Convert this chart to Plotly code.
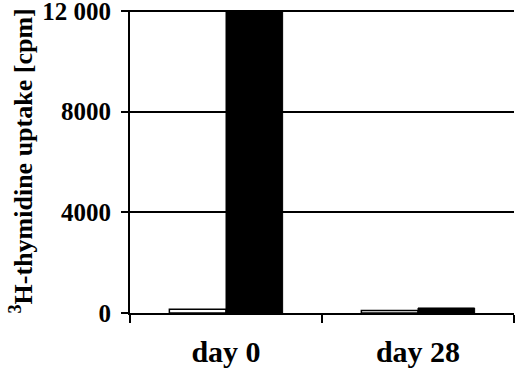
import plotly.graph_objects as go

categories = ["day 0", "day 28"]
white_values = [150, 100]
black_values = [12000, 200]
tick_vals = [0, 4000, 8000, 12000]
tick_text = ["0", "4000", "8000", "12 000"]
y_title = "<sup>3</sup>H-thymidine uptake [cpm]"

SERIF = "Liberation Serif"

fig = go.Figure()
fig.add_trace(go.Bar(x=categories, y=white_values, marker=dict(color="white", line=dict(color="black", width=1.5)), showlegend=False))
fig.add_trace(go.Bar(x=categories, y=black_values, marker=dict(color="black", line=dict(color="black", width=1)), showlegend=False))

fig.update_layout(
    width=520, height=369,
    margin=dict(l=130, r=6, t=10, b=56),
    paper_bgcolor="white", plot_bgcolor="white",
    barmode="group", bargap=0.41, bargroupgap=0,
    font=dict(family=SERIF, size=20, color="black"),
)
fig.update_xaxes(
    automargin=False,
    showline=True, linecolor="black", linewidth=2,
    ticks="outside", tickson="boundaries", ticklen=8, tickwidth=2, tickcolor="black",
    tickfont=dict(family=SERIF, size=30, color="black"),
    tickprefix="<b>", ticksuffix="</b>",
    ticklabelstandoff=11,
    showgrid=False,
)
fig.update_yaxes(
    automargin=False,
    range=[0, 12040], tickvals=tick_vals, ticktext=["<b>%s</b>" % t for t in tick_text],
    showline=True, linecolor="black", linewidth=2,
    ticks="outside", ticklen=7, tickwidth=2, tickcolor="black",
    ticklabelstandoff=5, ticklabeloverflow="allow",
    showgrid=True, gridcolor="black", gridwidth=2,
    zeroline=False,
    tickfont=dict(family=SERIF, size=25, color="black"),
)
fig.add_annotation(
    text="<b>%s</b>" % y_title, textangle=-90,
    xref="paper", yref="paper", x=-(130 - 22) / 384, y=0.5,
    xanchor="center", yanchor="middle", showarrow=False,
    font=dict(family=SERIF, size=26, color="black"),
)

fig.write_html("out.html", config={"displayModeBar": False},
               post_script="document.body.style.margin='0';")
